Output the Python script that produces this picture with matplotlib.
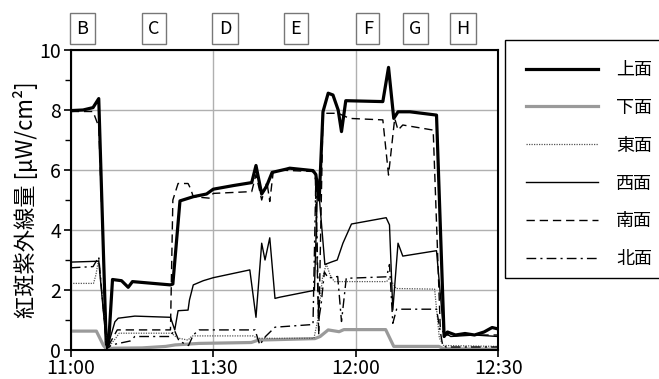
import matplotlib
matplotlib.use("Agg")
import matplotlib.pyplot as plt
import matplotlib.transforms as mtransforms
from matplotlib.patches import Rectangle

plt.rcParams['font.family'] = ['Noto Sans CJK JP', 'DejaVu Sans']

# time in minutes after 11:00
t_top = [0, 2.6, 4.7, 5.9, 7.5, 7.9, 8.8, 10.7, 12.1, 13.0, 21.0, 21.5, 23.0, 25.8, 28.6, 30.0,
         34.2, 38.1, 39.0, 40.2, 41.2, 42.4, 45.4, 46.1, 51.0, 51.6, 52.3, 53.1, 54.2, 55.2, 56.3,
         57.0, 57.9, 65.7, 66.9, 68.0, 68.9, 71.4, 77.0, 78.6, 79.3, 81, 83, 85, 87, 88.7, 90]
v_top = [7.98, 8.0, 8.08, 8.38, 0.06, 0.03, 2.35, 2.31, 2.09, 2.28, 2.17, 2.2, 4.97, 5.11, 5.2, 5.36,
         5.48, 5.58, 6.15, 5.2, 5.45, 5.92, 6.03, 6.06, 5.98, 5.85, 5.0, 7.94, 8.56, 8.5, 8.0,
         7.28, 8.31, 8.28, 9.42, 7.72, 7.94, 7.94, 7.83, 0.45, 0.6, 0.5, 0.55, 0.5, 0.6, 0.75, 0.7]

t_bottom = [0, 5.4, 6.9, 7.6, 9, 15, 20, 22, 27, 38, 39.5, 51.4, 52.5, 54.2, 56.5, 57.5, 66.3,
            68.0, 77.5, 78.5, 90]
v_bottom = [0.63, 0.63, 0.15, 0.02, 0.06, 0.07, 0.12, 0.17, 0.22, 0.25, 0.33, 0.38, 0.45, 0.67,
            0.61, 0.68, 0.68, 0.12, 0.12, 0.04, 0.03]

t_east = [0, 4.8, 5.3, 5.9, 7.6, 8.5, 9.5, 10.2, 21.2, 22.5, 24.7, 25.5, 38.4, 39.3, 51.2, 52.0,
          53.0, 53.8, 54.6, 55.5, 66.5, 67.1, 68.5, 76.6, 77.6, 78.5, 90]
v_east = [2.22, 2.22, 2.5, 3.05, 0.05, 0.2, 0.4, 0.56, 0.56, 0.4, 0.33, 0.47, 0.47, 0.39, 0.39, 1.0,
          2.4, 2.87, 2.5, 2.28, 2.28, 2.4, 2.05, 2.03, 0.4, 0.15, 0.12]

t_west = [0, 5.9, 7.6, 8.5, 9.3, 10.0, 13.5, 21.0, 21.9, 22.6, 24.7, 25.0, 25.8, 27.9, 30.0, 37.7,
          39.0, 40.2, 40.9, 41.9, 43.0, 44.0, 51.0, 51.3, 52.0, 53.5, 55.0, 56.1, 57.3, 59.1, 66.4,
          67.1, 67.8, 68.9, 69.9, 77.0, 78.5, 80, 85, 90]
v_west = [2.93, 2.96, 0.05, 0.5, 0.94, 1.06, 1.13, 1.09, 0.67, 1.31, 1.33, 1.67, 2.17, 2.31, 2.41, 2.67,
          1.09, 3.56, 3.0, 3.74, 1.72, 1.76, 1.98, 2.0, 5.7, 2.85, 2.94, 3.0, 3.56, 4.2, 4.41,
          4.17, 1.33, 3.56, 3.13, 3.31, 0.6, 0.45, 0.5, 0.45]

t_south = [0, 4.7, 5.9, 7.6, 8.5, 9.8, 21.0, 21.5, 22.6, 24.7, 25.2, 25.8, 29.3, 30.0, 38.1, 39.0,
           40.2, 41.3, 41.9, 42.6, 43.5, 51.0, 51.5, 52.2, 53.1, 56.3, 58.7, 65.7, 66.9, 68.2, 68.9,
           69.9, 76.3, 77.8, 79, 90]
v_south = [7.95, 7.95, 7.44, 0.05, 0.3, 0.67, 0.67, 5.0, 5.55, 5.55, 5.39, 5.11, 5.06, 5.22, 5.28, 5.85,
           5.0, 5.6, 4.95, 5.9, 6.0, 5.95, 5.7, 0.5, 7.89, 7.89, 7.72, 7.67, 5.83, 7.72, 7.33,
           7.5, 7.33, 0.7, 0.5, 0.5]

t_north = [0, 4.7, 5.9, 7.6, 8.5, 9.5, 12.5, 13.5, 21.0, 21.8, 22.8, 24.8, 25.8, 27.0, 38.8, 39.8,
           41.0, 43.0, 51.0, 51.6, 52.2, 52.7, 53.4, 54.2, 56.2, 57.0, 58.0, 66.5, 67.1, 67.8, 68.6,
           77.0, 78.3, 79, 90]
v_north = [2.74, 2.78, 3.1, 0.05, 0.15, 0.2, 0.3, 0.45, 0.45, 0.67, 0.3, 0.15, 0.5, 0.67, 0.67, 0.17,
           0.45, 0.76, 0.85, 5.7, 1.0, 1.5, 2.6, 2.4, 2.45, 0.95, 2.39, 2.44, 2.85, 0.89, 1.36,
           1.36, 0.15, 0.1, 0.1]

labels = ['上面', '下面', '東面', '西面', '南面', '北面']
time_ticks = [0, 30, 60, 90]
time_labels = ['11:00', '11:30', '12:00', '12:30']
marks = ['B', 'C', 'D', 'E', 'F', 'G', 'H']
mark_t = [2.5, 17.5, 32.5, 47.4, 62.5, 72.6, 82.5]

fig = plt.figure(figsize=(6.59, 3.79), dpi=100)
ax = fig.add_axes([0.1073, 0.0765, 0.6488, 0.7916])

ax.grid(True, color='#b0b0b0', linewidth=1.0)
ax.set_axisbelow(True)

l1, = ax.plot(t_top, v_top, color='black', lw=2.3, label=labels[0])
l2, = ax.plot(t_bottom, v_bottom, color='#9a9a9a', lw=2.3, label=labels[1])
l3, = ax.plot(t_east, v_east, color='#555555', lw=0.9, ls=(0, (1, 1)), label=labels[2])
l4, = ax.plot(t_west, v_west, color='black', lw=1.0, label=labels[3])
l5, = ax.plot(t_south, v_south, color='black', lw=1.0, ls=(0, (6, 3.5)), label=labels[4])
l6, = ax.plot(t_north, v_north, color='black', lw=1.0, ls=(0, (7, 3, 1.5, 3)), label=labels[5])

ax.set_xlim(0, 90)
ax.set_ylim(0, 10)
ax.set_xticks(time_ticks)
ax.set_xticklabels(time_labels)
ax.set_yticks([0, 2, 4, 6, 8, 10])
ax.set_yticks([1, 3, 5, 7, 9], minor=True)
ax.tick_params(axis='both', which='major', labelsize=14, length=5, width=1.2, color='black')
ax.tick_params(axis='x', which='major', pad=0.5)
ax.tick_params(axis='y', which='major', pad=2)
ax.tick_params(axis='y', which='minor', length=4, width=1.0)
ax.grid(False, which='minor')
for s in ax.spines.values():
    s.set_linewidth(1.5)

ax.set_ylabel('紅斑紫外線量 [μW/cm²]', fontsize=16, labelpad=1)

trans = mtransforms.blended_transform_factory(ax.transData, ax.transAxes)
for m, t in zip(marks, mark_t):
    ax.text(t, 1.07, m, transform=trans, ha='center', va='center', fontsize=13,
            bbox=dict(boxstyle='square,pad=0.36', fc='white', ec='#777777', lw=1.0))

leg = fig.legend(handles=[l1, l2, l3, l4, l5, l6], loc='upper left',
                 bbox_to_anchor=(0.766, 0.894), borderaxespad=0, fontsize=13,
                 handlelength=4.0, handletextpad=1.0, labelspacing=1.1, borderpad=1.15,
                 frameon=False)
# legend box runs off the right edge of the figure, as in the original
fig.patches.append(Rectangle((0.7663, 0.2665), 0.3, 0.628, transform=fig.transFigure,
                             fill=False, ec='black', lw=1.0, clip_on=False))

fig.savefig('out.png', dpi=100)
